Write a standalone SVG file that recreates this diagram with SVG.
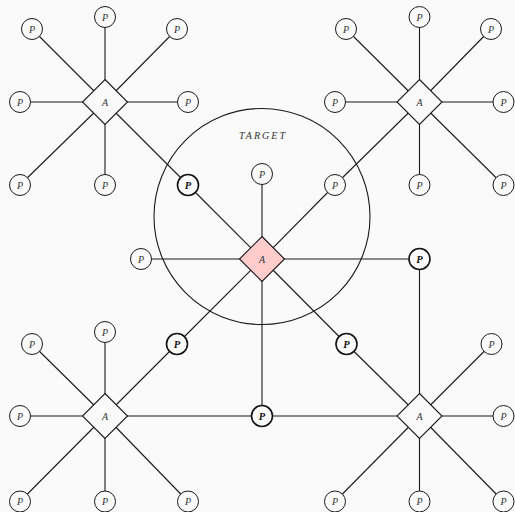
<svg xmlns="http://www.w3.org/2000/svg" width="515" height="512" viewBox="0 0 515 512">
<style>
.bg{fill:#fafafa}
.e{stroke:#1a1a1a;stroke-width:1.1;fill:none}
.p{fill:#fafafa;stroke:#1a1a1a;stroke-width:1}
.pb{fill:#fafafa;stroke:#111;stroke-width:1.6}
.a{fill:#fafafa;stroke:#1a1a1a;stroke-width:1.1}
.ac{fill:#ffcccc;stroke:#1a1a1a;stroke-width:1.1}
.t{font-family:"Liberation Serif",serif;font-style:italic;font-size:10px;fill:#333;text-anchor:middle}
.tb{font-family:"Liberation Serif",serif;font-style:italic;font-weight:bold;font-size:10.5px;fill:#111;text-anchor:middle}
.big{fill:none;stroke:#1a1a1a;stroke-width:1.1}
</style>
<rect class="bg" x="0" y="0" width="515" height="512"/>
<g id="target">
<circle class="big" cx="262" cy="216.5" r="108"/>
<text class="t" x="262" y="138.5" font-size="10.5" textLength="46">TARGET</text>
</g>
<g id="connectors">
<!-- G1 -->
<line class="e" x1="105" y1="102" x2="32" y2="29"/>
<line class="e" x1="105" y1="102" x2="105" y2="17"/>
<line class="e" x1="105" y1="102" x2="177" y2="29"/>
<line class="e" x1="105" y1="102" x2="20" y2="102"/>
<line class="e" x1="105" y1="102" x2="188" y2="102"/>
<line class="e" x1="105" y1="102" x2="20" y2="185"/>
<line class="e" x1="105" y1="102" x2="105" y2="185"/>
<line class="e" x1="105" y1="102" x2="188" y2="185"/>
<!-- G2 -->
<line class="e" x1="419.5" y1="102" x2="346" y2="29"/>
<line class="e" x1="419.5" y1="102" x2="419.5" y2="17"/>
<line class="e" x1="419.5" y1="102" x2="491" y2="29"/>
<line class="e" x1="419.5" y1="102" x2="335" y2="102"/>
<line class="e" x1="419.5" y1="102" x2="503.5" y2="102"/>
<line class="e" x1="419.5" y1="102" x2="335" y2="185"/>
<line class="e" x1="419.5" y1="102" x2="419.5" y2="185"/>
<line class="e" x1="419.5" y1="102" x2="503.5" y2="185"/>
<!-- Center -->
<line class="e" x1="262" y1="259" x2="188" y2="185"/>
<line class="e" x1="262" y1="259" x2="262" y2="174"/>
<line class="e" x1="262" y1="259" x2="335" y2="185"/>
<line class="e" x1="262" y1="259" x2="141" y2="259"/>
<line class="e" x1="262" y1="259" x2="419.5" y2="259"/>
<line class="e" x1="262" y1="259" x2="177" y2="344"/>
<line class="e" x1="262" y1="259" x2="262" y2="416"/>
<line class="e" x1="262" y1="259" x2="346.5" y2="344"/>
<!-- G3 -->
<line class="e" x1="105" y1="416" x2="32" y2="344"/>
<line class="e" x1="105" y1="416" x2="105" y2="332"/>
<line class="e" x1="105" y1="416" x2="177" y2="344"/>
<line class="e" x1="105" y1="416" x2="20" y2="416"/>
<line class="e" x1="105" y1="416" x2="262" y2="416"/>
<line class="e" x1="105" y1="416" x2="20" y2="501.5"/>
<line class="e" x1="105" y1="416" x2="105" y2="501.5"/>
<line class="e" x1="105" y1="416" x2="188" y2="501.5"/>
<!-- G4 -->
<line class="e" x1="419.5" y1="416" x2="346.5" y2="344"/>
<line class="e" x1="419.5" y1="416" x2="419.5" y2="259"/>
<line class="e" x1="419.5" y1="416" x2="491.5" y2="344"/>
<line class="e" x1="419.5" y1="416" x2="262" y2="416"/>
<line class="e" x1="419.5" y1="416" x2="503.5" y2="416"/>
<line class="e" x1="419.5" y1="416" x2="335" y2="501.5"/>
<line class="e" x1="419.5" y1="416" x2="419.5" y2="501.5"/>
<line class="e" x1="419.5" y1="416" x2="503.5" y2="501.5"/>
</g>
<!-- A nodes -->
<g id="A1"><polygon class="a" points="105,79.5 127.5,102 105,124.5 82.5,102"/><text class="t" x="105" y="105.5">A</text></g>
<g id="A2"><polygon class="a" points="419.5,79.5 442,102 419.5,124.5 397,102"/><text class="t" x="419.5" y="105.5">A</text></g>
<g id="A0"><polygon class="ac" points="262,236.5 284.5,259 262,281.5 239.5,259"/><text class="t" x="262" y="262.5">A</text></g>
<g id="A3"><polygon class="a" points="105,393.5 127.5,416 105,438.5 82.5,416"/><text class="t" x="105" y="419.5">A</text></g>
<g id="A4"><polygon class="a" points="419.5,393.5 442,416 419.5,438.5 397,416"/><text class="t" x="419.5" y="419.5">A</text></g>
<!-- P nodes G1 -->
<g id="P1a"><circle class="p" cx="32" cy="29" r="10.5"/><text class="t" x="32" y="32.5">P</text></g>
<g id="P1b"><circle class="p" cx="105" cy="17" r="10.5"/><text class="t" x="105" y="20.5">P</text></g>
<g id="P1c"><circle class="p" cx="177" cy="29" r="10.5"/><text class="t" x="177" y="32.5">P</text></g>
<g id="P1d"><circle class="p" cx="20" cy="102" r="10.5"/><text class="t" x="20" y="105.5">P</text></g>
<g id="P1e"><circle class="p" cx="188" cy="102" r="10.5"/><text class="t" x="188" y="105.5">P</text></g>
<g id="P1f"><circle class="p" cx="20" cy="185" r="10.5"/><text class="t" x="20" y="188.5">P</text></g>
<g id="P1g"><circle class="p" cx="105" cy="185" r="10.5"/><text class="t" x="105" y="188.5">P</text></g>
<g id="P1h"><circle class="pb" cx="188" cy="185" r="10.5"/><text class="tb" x="188" y="188.5">P</text></g>
<!-- P nodes G2 -->
<g id="P2a"><circle class="p" cx="346" cy="29" r="10.5"/><text class="t" x="346" y="32.5">P</text></g>
<g id="P2b"><circle class="p" cx="419.5" cy="17" r="10.5"/><text class="t" x="419.5" y="20.5">P</text></g>
<g id="P2c"><circle class="p" cx="491" cy="29" r="10.5"/><text class="t" x="491" y="32.5">P</text></g>
<g id="P2d"><circle class="p" cx="335" cy="102" r="10.5"/><text class="t" x="335" y="105.5">P</text></g>
<g id="P2e"><circle class="p" cx="503.5" cy="102" r="10.5"/><text class="t" x="503.5" y="105.5">P</text></g>
<g id="P2f"><circle class="p" cx="335" cy="185" r="10.5"/><text class="t" x="335" y="188.5">P</text></g>
<g id="P2g"><circle class="p" cx="419.5" cy="185" r="10.5"/><text class="t" x="419.5" y="188.5">P</text></g>
<g id="P2h"><circle class="p" cx="503.5" cy="185" r="10.5"/><text class="t" x="503.5" y="188.5">P</text></g>
<!-- P nodes center -->
<g id="P0a"><circle class="p" cx="262" cy="174" r="10.5"/><text class="t" x="262" y="177.5">P</text></g>
<g id="P0b"><circle class="p" cx="141" cy="259" r="10.5"/><text class="t" x="141" y="262.5">P</text></g>
<g id="P0c"><circle class="pb" cx="419.5" cy="259" r="10.5"/><text class="tb" x="419.5" y="262.5">P</text></g>
<g id="P0d"><circle class="pb" cx="177" cy="344" r="10.5"/><text class="tb" x="177" y="347.5">P</text></g>
<g id="P0e"><circle class="pb" cx="346.5" cy="344" r="10.5"/><text class="tb" x="346.5" y="347.5">P</text></g>
<g id="P0f"><circle class="pb" cx="262" cy="416" r="10.5"/><text class="tb" x="262" y="419.5">P</text></g>
<!-- P nodes G3 -->
<g id="P3a"><circle class="p" cx="32" cy="344" r="10.5"/><text class="t" x="32" y="347.5">P</text></g>
<g id="P3b"><circle class="p" cx="105" cy="332" r="10.5"/><text class="t" x="105" y="335.5">P</text></g>
<g id="P3d"><circle class="p" cx="20" cy="416" r="10.5"/><text class="t" x="20" y="419.5">P</text></g>
<g id="P3f"><circle class="p" cx="20" cy="501.5" r="10.5"/><text class="t" x="20" y="505">P</text></g>
<g id="P3g"><circle class="p" cx="105" cy="501.5" r="10.5"/><text class="t" x="105" y="505">P</text></g>
<g id="P3h"><circle class="p" cx="188" cy="501.5" r="10.5"/><text class="t" x="188" y="505">P</text></g>
<!-- P nodes G4 -->
<g id="P4c"><circle class="p" cx="491.5" cy="344" r="10.5"/><text class="t" x="491.5" y="347.5">P</text></g>
<g id="P4e"><circle class="p" cx="503.5" cy="416" r="10.5"/><text class="t" x="503.5" y="419.5">P</text></g>
<g id="P4f"><circle class="p" cx="335" cy="501.5" r="10.5"/><text class="t" x="335" y="505">P</text></g>
<g id="P4g"><circle class="p" cx="419.5" cy="501.5" r="10.5"/><text class="t" x="419.5" y="505">P</text></g>
<g id="P4h"><circle class="p" cx="503.5" cy="501.5" r="10.5"/><text class="t" x="503.5" y="505">P</text></g>
</svg>
